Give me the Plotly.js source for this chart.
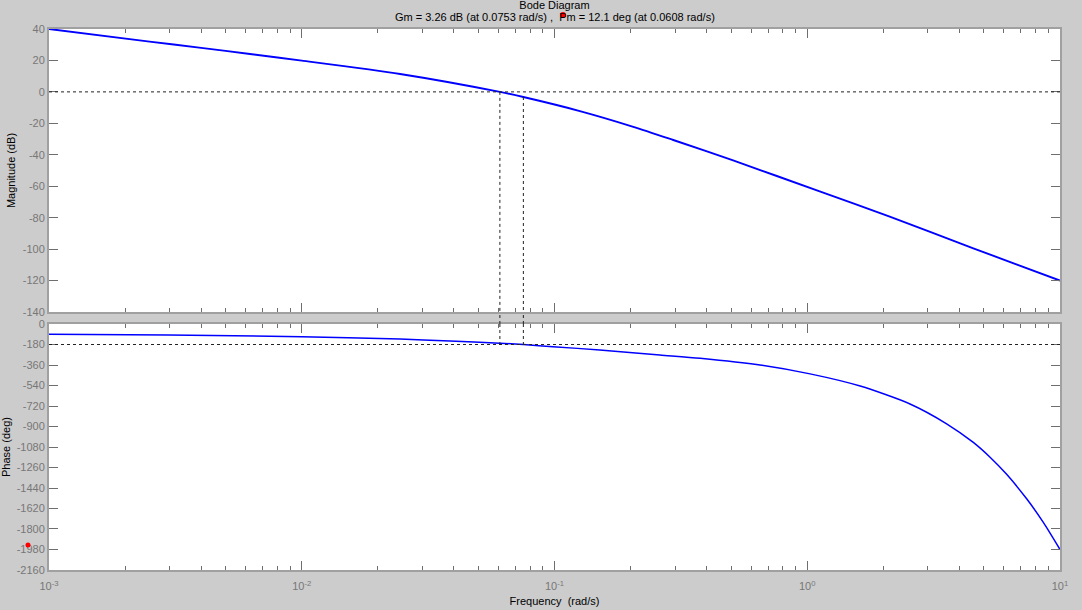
<!DOCTYPE html>
<html>
<head>
<meta charset="utf-8">
<script src="https://cdn.plot.ly/plotly-3.0.1.min.js"></script>
<style>
  html, body { margin: 0; padding: 0; background: #cccccc; }
  #chart { width: 1082px; height: 610px; }
</style>
</head>
<body>
<div id="chart"></div>
<script>
// ---- data ----
const magFreq = [0.001, 0.0025, 0.004, 0.00624, 0.01, 0.0245, 0.0608, 0.0753, 0.126, 0.205, 0.295, 0.509, 1.12, 2.12, 4.54, 10];
const magDb   = [40, 32, 28, 24.1, 19.9, 11.4, 0, -3.26, -12.2, -22.2, -30.6, -43.6, -63.3, -79.4, -99.5, -120];

const phaseFreq = [0.001, 0.00296, 0.01, 0.0245, 0.0386, 0.0608, 0.0753, 0.0986, 0.151, 0.261, 0.377, 0.65, 1.026, 1.62, 2.55, 3.56, 4.54, 5.3, 6.15, 7.38, 8.59, 10];
const phaseDeg  = [-90, -96, -112, -132, -149, -167.9, -180, -199, -228, -272, -301, -360, -438, -545, -702, -876, -1040, -1172, -1320, -1535, -1742, -1980];

const gmDb = 3.26, gmFreq = 0.0753;
const pmDeg = 12.1, pmFreq = 0.0608;

const magTicks   = [40, 20, 0, -20, -40, -60, -80, -100, -120, -140];
const phaseTicks = [0, -180, -360, -540, -720, -900, -1080, -1260, -1440, -1620, -1800, -1980, -2160];
const freqTicks  = [1e-3, 1e-2, 1e-1, 1e0, 1e1];
const freqTickText = ['10<sup>-3</sup>', '10<sup>-2</sup>', '10<sup>-1</sup>', '10<sup>0</sup>', '10<sup>1</sup>'];

// ---- styling ----
const FONT = 'Liberation Sans, Arial, sans-serif';
const LABEL = '#777777';
const AXLINE = '#a0a0a0';
const TICKC = '#6e6e6e';
const X_RANGE = [-3, 1];

const minorVals = [];
for (let e = -3; e < 1; e++) for (let k = 2; k <= 9; k++) minorVals.push(k * Math.pow(10, e));

const topDom = [0.4769, 1];
const botDom = [0, 0.4547];

// fraction of the x-axis domain for a frequency (log axis)
function xFrac(f) { return (Math.log10(f) - X_RANGE[0]) / (X_RANGE[1] - X_RANGE[0]); }

function xAxis(anchor, showLabels, title) {
  return {
    type: 'log', range: X_RANGE, anchor: anchor, domain: [0, 1],
    showline: true, linecolor: AXLINE, linewidth: 2, mirror: 'ticks',
    ticks: 'inside', ticklen: 9, tickwidth: 1, tickcolor: TICKC,
    tickmode: 'array', tickvals: freqTicks, ticktext: freqTickText,
    showticklabels: showLabels, ticklabelstandoff: 5,
    tickfont: {family: FONT, size: 11, color: LABEL},
    minor: {tickmode: 'array', tickvals: minorVals, ticks: 'inside', ticklen: 4, tickwidth: 1, tickcolor: TICKC, showgrid: false},
    showgrid: false, zeroline: false,
    title: title ? {text: title, font: {family: FONT, size: 11, color: '#000'}, standoff: 6} : undefined
  };
}
function yAxis(anchor, dom, range, ticks, title) {
  return {
    anchor: anchor, domain: dom, range: range,
    showline: true, linecolor: AXLINE, linewidth: 2, mirror: 'ticks',
    ticks: 'inside', ticklen: 9, tickwidth: 1, tickcolor: TICKC,
    tickmode: 'array', tickvals: ticks, ticktext: ticks.map(String),
    tickfont: {family: FONT, size: 11, color: LABEL},
    showgrid: false, zeroline: false,
    title: {text: title, font: {family: FONT, size: 11, color: '#000'}, standoff: 5}
  };
}

const traces = [
  {x: magFreq, y: magDb, xaxis: 'x', yaxis: 'y', type: 'scatter', mode: 'lines',
   line: {color: '#0000ff', width: 1.9, shape: 'spline', smoothing: 0.7}, hoverinfo: 'x+y'},
  {x: phaseFreq, y: phaseDeg, xaxis: 'x2', yaxis: 'y2', type: 'scatter', mode: 'lines',
   line: {color: '#0000ff', width: 1.5, shape: 'spline', smoothing: 0.7}, hoverinfo: 'x+y'}
];

const dot = {color: '#222222', width: 1, dash: 'dot'};
function vline(f, yref, y0, y1) {
  return {type: 'line', xref: 'x domain', yref: yref, x0: xFrac(f), x1: xFrac(f), y0: y0, y1: y1, line: dot};
}
const shapes = [
  // 0 dB and -180 deg reference lines
  {type: 'line', xref: 'x domain', yref: 'y', x0: 0, x1: 1, y0: 0, y1: 0, line: dot},
  {type: 'line', xref: 'x2 domain', yref: 'y2', x0: 0, x1: 1, y0: -180, y1: -180, line: dot},
  // phase-margin and gain-margin verticals, spanning both panels
  vline(pmFreq, 'y', 0, -140),
  vline(pmFreq, 'paper', botDom[1], topDom[0]),
  vline(pmFreq, 'y2', 0, -180),
  vline(gmFreq, 'y', -gmDb, -140),
  vline(gmFreq, 'paper', botDom[1], topDom[0]),
  vline(gmFreq, 'y2', 0, -180),
  // small red markers seen in the reference
  {type: 'circle', xref: 'paper', yref: 'paper', xsizemode: 'pixel', ysizemode: 'pixel',
   xanchor: 0.5084, yanchor: 1.0259, x0: -3, x1: 3, y0: -3, y1: 3, fillcolor: '#ff0000', line: {width: 0}},
  {type: 'circle', xref: 'paper', yref: 'paper', xsizemode: 'pixel', ysizemode: 'pixel',
   xanchor: -0.0208, yanchor: 0.0462, x0: -2.5, x1: 2.5, y0: -2.5, y1: 2.5, fillcolor: '#ff0000', line: {width: 0}}
];

const layout = {
  width: 1082, height: 610,
  paper_bgcolor: '#cccccc', plot_bgcolor: '#ffffff',
  margin: {l: 49, r: 22, t: 29, b: 40, pad: 0},
  showlegend: false,
  font: {family: FONT, size: 11, color: '#000'},
  title: {text: 'Bode Diagram', font: {family: FONT, size: 11, color: '#000'},
          xref: 'paper', x: 0.5, xanchor: 'center', yref: 'container', y: 1 - 5/610, yanchor: 'middle'},
  annotations: [
    {text: 'Gm = ' + gmDb + ' dB (at ' + gmFreq + ' rad/s) ,  Pm = ' + pmDeg + ' deg (at ' + pmFreq + ' rad/s)',
     xref: 'paper', yref: 'paper', x: 0.5, y: 1.0222, xanchor: 'center', yanchor: 'middle',
     showarrow: false, font: {family: FONT, size: 11, color: '#000'}}
  ],
  xaxis: xAxis('y', false, null),
  yaxis: yAxis('x', topDom, [-140, 40], magTicks, 'Magnitude (dB)'),
  xaxis2: xAxis('y2', true, 'Frequency  (rad/s)'),
  yaxis2: yAxis('x2', botDom, [-2160, 0], phaseTicks, 'Phase (deg)'),
  shapes: shapes
};

Plotly.newPlot('chart', traces, layout, {displayModeBar: false, staticPlot: true});
</script>
</body>
</html>
